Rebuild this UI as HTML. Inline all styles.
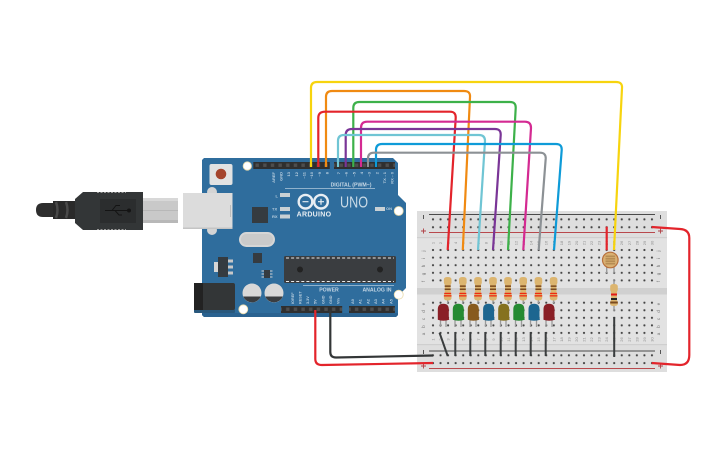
<!DOCTYPE html>
<html><head><meta charset="utf-8">
<style>html,body{margin:0;padding:0;background:#fff;width:725px;height:453px;overflow:hidden}svg{display:block}
text{font-family:"Liberation Sans",sans-serif}</style></head>
<body>
<svg width="725" height="453" viewBox="0 0 725 453" xmlns="http://www.w3.org/2000/svg">
<defs>
<pattern id="hr" x="433" y="215.4" width="7.55" height="7.9" patternUnits="userSpaceOnUse"><circle cx="0" cy="3.9" r="1.1" fill="#444"/><circle cx="7.55" cy="3.9" r="1.1" fill="#444"/></pattern>
<pattern id="hr2" x="433" y="351.4" width="7.55" height="7.8" patternUnits="userSpaceOnUse"><circle cx="0" cy="3.9" r="1.1" fill="#444"/><circle cx="7.55" cy="3.9" r="1.1" fill="#444"/></pattern>
<pattern id="hm" x="433" y="246.2" width="7.55" height="7.6" patternUnits="userSpaceOnUse"><circle cx="0" cy="3.8" r="1.1" fill="#444"/><circle cx="7.55" cy="3.8" r="1.1" fill="#444"/></pattern>
<pattern id="hm2" x="433" y="298.9" width="7.55" height="7.55" patternUnits="userSpaceOnUse"><circle cx="0" cy="3.8" r="1.1" fill="#444"/><circle cx="7.55" cy="3.8" r="1.1" fill="#444"/></pattern>
<pattern id="pin" x="253.3" y="161" width="7.65" height="9" patternUnits="userSpaceOnUse"><rect width="7.65" height="9" fill="#2f2f2f"/><rect x="2.2" y="2.5" width="3.4" height="3.4" fill="#4e4e4e"/></pattern>
<g id="res"><rect x="-.7" y="-2" width="1.4" height="25" fill="#9a9a9a"/><path d="M-3.8 -.5Q-3.8-3 0-3T3.8-.5V3L2.9 5V13L3.8 15V18Q3.8 20.500 0 20.500T-3.800 18V15L-2.900 13V5L-3.800 3Z" fill="#dcb56f"/><rect x="-3" y="5.400" width="6" height="1.500" fill="#7a4a1f"/><rect x="-3" y="8.500" width="6" height="1.500" fill="#7a4a1f"/><rect x="-3.500" y="12.800" width="7" height="1.300" fill="#ee2a10"/><rect x="-3.800" y="15.200" width="7.600" height="1.300" fill="#ee2a10"/></g>
<g id="res2"><rect x="-.7" y="-6" width="1.4" height="32" fill="#9a9a9a"/><path d="M-3.800 1.500Q-3.800-1 0-1T3.800 1.500V5L2.900 7V15L3.800 17V19Q3.800 21 0 21T-3.800 19V17L-2.900 15V7L-3.800 5Z" fill="#dcb56f"/><rect x="-3" y="8.500" width="6" height="2" fill="#e01818"/><rect x="-3" y="13" width="6" height="2" fill="#222"/><rect x="-3.800" y="16.500" width="7.600" height="2" fill="#7a4a1f"/></g>
<path id="led" d="M-5.500 15V5.500Q-5.500 0 0 0T5.500 5.500V14.500L6 16Q0 18-5.500 16Z"/>
</defs>

<!-- Breadboard -->
<rect x="417" y="211" width="250" height="161" fill="#dedede"/>
<rect x="417" y="238" width="250" height="106" fill="#e2e2e2"/>
<rect x="417" y="237" width="250" height="1.2" fill="#cfcfcf"/>
<rect x="417" y="344" width="250" height="1.2" fill="#cfcfcf"/>
<rect x="417" y="288" width="250" height="6.500" fill="#d0d0d0"/>
<rect x="429" y="214" width="226" height="1" fill="#4a4a4a"/>
<rect x="429" y="232" width="226" height="1" fill="#b8484c"/>
<rect x="429" y="350.5" width="226" height="1" fill="#4a4a4a"/>
<rect x="429" y="368" width="226" height="1" fill="#b8484c"/>
<rect x="431" y="215.4" width="223" height="15.8" fill="url(#hr)"/>
<rect x="431" y="351.4" width="223" height="15.6" fill="url(#hr2)"/>
<rect x="431" y="246.2" width="223" height="38" fill="url(#hm)"/>
<rect x="431" y="298.9" width="223" height="37.7" fill="url(#hm2)"/>
<g fill="#555">
<rect x="423" y="215" width="1" height="4"/><rect x="423" y="350" width="1" height="4"/><rect x="660" y="215" width="1" height="4"/><rect x="660" y="350" width="1" height="4"/>
</g>
<g fill="#b04045">
<path d="M421 231h5M423.500 228.500v5M658 231h5M660.500 228.500v5M421 366h5M423.500 363.500v5M658 366h5M660.500 363.500v5" stroke="#b04045" stroke-width=".9"/>
</g>
<g font-size="4.500" fill="#777" text-anchor="middle">
<text transform="translate(425,251) rotate(-90)">j</text><text transform="translate(425,258.500) rotate(-90)">i</text><text transform="translate(425,266) rotate(-90)">h</text><text transform="translate(425,274) rotate(-90)">g</text><text transform="translate(425,281.500) rotate(-90)">f</text>
<text transform="translate(425,304) rotate(-90)">e</text><text transform="translate(425,311.500) rotate(-90)">d</text><text transform="translate(425,319) rotate(-90)">c</text><text transform="translate(425,326.500) rotate(-90)">b</text><text transform="translate(425,334) rotate(-90)">a</text>
<text transform="translate(660,251) rotate(-90)">j</text><text transform="translate(660,258.500) rotate(-90)">i</text><text transform="translate(660,266) rotate(-90)">h</text><text transform="translate(660,274) rotate(-90)">g</text><text transform="translate(660,281.500) rotate(-90)">f</text>
<text transform="translate(660,304) rotate(-90)">e</text><text transform="translate(660,311.500) rotate(-90)">d</text><text transform="translate(660,319) rotate(-90)">c</text><text transform="translate(660,326.500) rotate(-90)">b</text><text transform="translate(660,334) rotate(-90)">a</text>
</g>
<g font-size="4" fill="#8c8c8c" text-anchor="middle">
<text transform="translate(434.500,243) rotate(-90)">1</text><text transform="translate(442,243) rotate(-90)">2</text><text transform="translate(449.600,243) rotate(-90)">3</text><text transform="translate(457.100,243) rotate(-90)">4</text><text transform="translate(464.700,243) rotate(-90)">5</text><text transform="translate(472.200,243) rotate(-90)">6</text><text transform="translate(479.800,243) rotate(-90)">7</text><text transform="translate(487.300,243) rotate(-90)">8</text><text transform="translate(494.900,243) rotate(-90)">9</text><text transform="translate(502.400,243) rotate(-90)">10</text><text transform="translate(510,243) rotate(-90)">11</text><text transform="translate(517.500,243) rotate(-90)">12</text><text transform="translate(525.100,243) rotate(-90)">13</text><text transform="translate(532.600,243) rotate(-90)">14</text><text transform="translate(540.200,243) rotate(-90)">15</text><text transform="translate(547.700,243) rotate(-90)">16</text><text transform="translate(555.300,243) rotate(-90)">17</text><text transform="translate(562.800,243) rotate(-90)">18</text><text transform="translate(570.400,243) rotate(-90)">19</text><text transform="translate(577.900,243) rotate(-90)">20</text><text transform="translate(585.500,243) rotate(-90)">21</text><text transform="translate(593,243) rotate(-90)">22</text><text transform="translate(600.600,243) rotate(-90)">23</text><text transform="translate(608.100,243) rotate(-90)">24</text><text transform="translate(615.700,243) rotate(-90)">25</text><text transform="translate(623.200,243) rotate(-90)">26</text><text transform="translate(630.800,243) rotate(-90)">27</text><text transform="translate(638.300,243) rotate(-90)">28</text><text transform="translate(645.900,243) rotate(-90)">29</text><text transform="translate(653.400,243) rotate(-90)">30</text>
<text transform="translate(434.500,339.500) rotate(-90)">1</text><text transform="translate(442,339.500) rotate(-90)">2</text><text transform="translate(449.600,339.500) rotate(-90)">3</text><text transform="translate(457.100,339.500) rotate(-90)">4</text><text transform="translate(464.700,339.500) rotate(-90)">5</text><text transform="translate(472.200,339.500) rotate(-90)">6</text><text transform="translate(479.800,339.500) rotate(-90)">7</text><text transform="translate(487.300,339.500) rotate(-90)">8</text><text transform="translate(494.900,339.500) rotate(-90)">9</text><text transform="translate(502.400,339.500) rotate(-90)">10</text><text transform="translate(510,339.500) rotate(-90)">11</text><text transform="translate(517.500,339.500) rotate(-90)">12</text><text transform="translate(525.100,339.500) rotate(-90)">13</text><text transform="translate(532.600,339.500) rotate(-90)">14</text><text transform="translate(540.200,339.500) rotate(-90)">15</text><text transform="translate(547.700,339.500) rotate(-90)">16</text><text transform="translate(555.300,339.500) rotate(-90)">17</text><text transform="translate(562.800,339.500) rotate(-90)">18</text><text transform="translate(570.400,339.500) rotate(-90)">19</text><text transform="translate(577.900,339.500) rotate(-90)">20</text><text transform="translate(585.500,339.500) rotate(-90)">21</text><text transform="translate(593,339.500) rotate(-90)">22</text><text transform="translate(600.600,339.500) rotate(-90)">23</text><text transform="translate(608.100,339.500) rotate(-90)">24</text><text transform="translate(615.700,339.500) rotate(-90)">25</text><text transform="translate(623.200,339.500) rotate(-90)">26</text><text transform="translate(630.800,339.500) rotate(-90)">27</text><text transform="translate(638.300,339.500) rotate(-90)">28</text><text transform="translate(645.900,339.500) rotate(-90)">29</text><text transform="translate(653.400,339.500) rotate(-90)">30</text>
</g>

<!-- USB cable -->
<path d="M53 203H43Q36 203 36 210T43 217H53Z" fill="#2e2e2e"/>
<path d="M53 201H75V219H53Z" fill="#2a2a2a"/>
<path d="M56 202Q59 210 56 218M66 202Q69 210 66 218" stroke="#4a4a4a" stroke-width="2.500" fill="none"/>
<path d="M75 199L83 192H143V230H83L75 223Z" fill="#333637"/>
<path d="M97 192.500H126M97 229.500H126" stroke="#9a9a9a" stroke-width="1" stroke-dasharray="2 1.500"/>
<rect x="100" y="199" width="36" height="24" fill="#2b2d2e"/>
<path d="M105 210.500H128M112 210.500L116 205.500H120M115 210.500L119 215H122" stroke="#141414" stroke-width="1" fill="none"/><circle cx="129" cy="210.500" r="2" fill="#141414"/>
<rect x="143" y="198" width="35" height="25" fill="#c9c9c9"/>
<rect x="143" y="198" width="35" height="3" fill="#d8d8d8"/><rect x="143" y="220" width="35" height="3" fill="#b8b8b8"/>
<rect x="143" y="210" width="35" height=".8" fill="#b4b4b4"/>

<!-- Arduino -->
<path d="M204 158H393L398 163V195L406 203V288L398 296V315L396 317H204L202 315V160Z" fill="#2f6d9d"/>
<path d="M202 315V313H398V315L396 317H204Z" fill="#2a6290"/>
<ellipse cx="212" cy="192" rx="5" ry="5" fill="#d4d4d4"/><ellipse cx="212" cy="230" rx="5" ry="5" fill="#d4d4d4"/>
<rect x="183" y="193" width="49.500" height="36" fill="#dcdcdc"/>
<rect x="183" y="227.500" width="49.500" height="1.500" fill="#c4c4c4"/>
<rect x="230" y="205" width=".8" height="12" fill="#b4b4b4"/>
<rect x="209.500" y="164" width="23" height="21" rx="2" fill="#e2e2e2"/>
<circle cx="221" cy="174" r="5.300" fill="#a5442c"/>
<circle cx="247.300" cy="166" r="4.200" fill="#fff" stroke="#e8d9a8" stroke-width=".8"/>
<circle cx="398.700" cy="211" r="4.500" fill="#fff" stroke="#e8d9a8" stroke-width=".8"/>
<circle cx="398.700" cy="294.700" r="4.500" fill="#fff" stroke="#e8d9a8" stroke-width=".8"/>
<circle cx="243.300" cy="309.300" r="4.500" fill="#fff" stroke="#e8d9a8" stroke-width=".8"/>
<rect x="253.300" y="162" width="76.500" height="7" fill="url(#pin)"/>
<rect x="334" y="162" width="61" height="7" fill="url(#pin)"/>
<rect x="281" y="306" width="61.200" height="7" fill="url(#pin)"/>
<rect x="349" y="306" width="45.900" height="7" fill="url(#pin)"/>
<rect x="285" y="188" width="90" height=".8" fill="#a9c3d8"/>
<text x="351" y="186.300" font-size="5.200" font-weight="bold" fill="#c4d6e4" text-anchor="middle">DIGITAL (PWM~)</text>
<g font-size="4" fill="#b9cede" text-anchor="end" font-weight="bold">
<text transform="translate(275,172) rotate(-90)">AREF</text><text transform="translate(282.600,172) rotate(-90)">GND</text><text transform="translate(290,172) rotate(-90)">13</text><text transform="translate(297.800,172) rotate(-90)">12</text><text transform="translate(305.500,172) rotate(-90)">~11</text><text transform="translate(313,172) rotate(-90)">~10</text><text transform="translate(320.800,172) rotate(-90)">~9</text><text transform="translate(328.500,172) rotate(-90)">8</text>
<text transform="translate(340,172) rotate(-90)">7</text><text transform="translate(347.700,172) rotate(-90)">~6</text><text transform="translate(355.300,172) rotate(-90)">~5</text><text transform="translate(363,172) rotate(-90)">4</text><text transform="translate(370.600,172) rotate(-90)">~3</text><text transform="translate(378.300,172) rotate(-90)">2</text><text transform="translate(385.900,172) rotate(-90)">TX→1</text><text transform="translate(393.600,172) rotate(-90)">RX←0</text>
</g>
<!-- logo -->
<g fill="none" stroke="#e8eef3" stroke-width="2.400"><circle cx="305.500" cy="201.700" r="6.800"/><circle cx="321" cy="201.700" r="6.800"/></g>
<path d="M302.500 201.700h6M318 201.700h6M321 198.700v6" stroke="#e8eef3" stroke-width="1.200"/>
<text x="314" y="216.500" font-size="7" font-weight="bold" fill="#e8eef3" text-anchor="middle" letter-spacing=".3">ARDUINO</text>
<text x="354" y="207.500" font-size="16" fill="#c9dae6" text-anchor="middle" textLength="28" lengthAdjust="spacingAndGlyphs">UNO</text>
<g fill="#b9cede" font-size="4" font-weight="bold"><text x="275.500" y="197.500">L</text><text x="272" y="210.500">TX</text><text x="272" y="218">RX</text><text x="386" y="210">ON</text></g>
<g fill="#c8d0d4"><rect x="280" y="193" width="10" height="4"/><rect x="280" y="207" width="10" height="4"/><rect x="280" y="214.500" width="10" height="4"/><rect x="375" y="207" width="10" height="4"/></g>
<rect x="252" y="207" width="16" height="16" fill="#353b40"/>
<rect x="239" y="232" width="36" height="15" rx="7.500" fill="#d6d6d6"/>
<rect x="241" y="234" width="32" height="11" rx="5.500" fill="#cacaca"/>
<rect x="253" y="253" width="9" height="10" fill="#353b40"/>
<rect x="214" y="262" width="4" height="10" fill="#d6d6d6"/>
<rect x="218" y="257" width="10" height="20" fill="#353b40"/>
<rect x="228" y="259.500" width="5" height="3" fill="#c8c8c8"/><rect x="228" y="265.500" width="5" height="3" fill="#c8c8c8"/><rect x="228" y="271.500" width="5" height="3" fill="#c8c8c8"/>
<path d="M261.500 271h11M261.500 274h11M261.500 277h11" stroke="#d0d0d0" stroke-width="1"/>
<rect x="264" y="270" width="6" height="8" fill="#353b40"/>
<rect x="284" y="256" width="112" height="27" rx="1.500" fill="#3a3d40"/>
<path d="M286 258H394M286 281.500H394" stroke="#e8e8e8" stroke-width="1" stroke-dasharray="3 2.100"/>
<circle cx="300" cy="269.500" r="3" fill="#222"/><circle cx="380" cy="269.500" r="3" fill="#222"/>
<rect x="194" y="309" width="41" height="4" rx="1" fill="#29587c"/>
<rect x="194" y="283" width="41" height="27" rx="2" fill="#333637"/><rect x="194" y="283" width="9" height="27" fill="#222"/>
<circle cx="252" cy="293" r="9.500" fill="#d8d8d8"/><path d="M243.200 296.500A9.500 9.500 0 0 0 260.800 296.500Z" fill="#3a3d40"/><circle cx="274" cy="293" r="9.500" fill="#d8d8d8"/><path d="M265.200 296.500A9.500 9.500 0 0 0 282.800 296.500Z" fill="#3a3d40"/>
<rect x="303" y="285" width="47" height=".8" fill="#a9c3d8"/><rect x="349" y="285" width="45" height=".8" fill="#a9c3d8"/>
<text x="329" y="291.500" font-size="5.200" font-weight="bold" fill="#c4d6e4" text-anchor="middle">POWER</text>
<text x="377" y="291.500" font-size="5.200" font-weight="bold" fill="#c4d6e4" text-anchor="middle">ANALOG IN</text>
<g font-size="3.800" fill="#b9cede" font-weight="bold">
<text transform="translate(294,304) rotate(-90)">IOREF</text><text transform="translate(301.500,304) rotate(-90)">RESET</text><text transform="translate(309,304) rotate(-90)">3.3V</text><text transform="translate(316.700,304) rotate(-90)">5V</text><text transform="translate(324.300,304) rotate(-90)">GND</text><text transform="translate(332,304) rotate(-90)">GND</text><text transform="translate(339.600,304) rotate(-90)">Vin</text>
<text transform="translate(354,304) rotate(-90)">A0</text><text transform="translate(361.600,304) rotate(-90)">A1</text><text transform="translate(369.300,304) rotate(-90)">A2</text><text transform="translate(377,304) rotate(-90)">A3</text><text transform="translate(384.600,304) rotate(-90)">A4</text><text transform="translate(392.300,304) rotate(-90)">A5</text>
</g>

<!-- Resistors -->
<use href="#res" x="447.700" y="280"/><use href="#res" x="462.800" y="280"/><use href="#res" x="478" y="280"/><use href="#res" x="493" y="280"/><use href="#res" x="508" y="280"/><use href="#res" x="523.200" y="280"/><use href="#res" x="538.400" y="280"/><use href="#res" x="553.600" y="280"/>
<!-- LEDs -->
<path d="M440.500 319V327M446 319V327M455 319V327M461 319V327M470 319V327M476 319V327M485.500 319V327M491 319V327M500.500 319V327M506 319V327M515.500 319V327M521.500 319V327M530.500 319V327M536.500 319V327M546 319V327M552 319V327" stroke="#9a9a9a" stroke-width="1.300"/>
<use href="#led" x="443.300" y="303.700" fill="#8a1f26"/><use href="#led" x="458.300" y="303.700" fill="#258a32"/><use href="#led" x="473.300" y="303.700" fill="#875a1e"/><use href="#led" x="488.600" y="303.700" fill="#1d6690"/><use href="#led" x="503.700" y="303.700" fill="#85711f"/><use href="#led" x="518.800" y="303.700" fill="#258a32"/><use href="#led" x="534" y="303.700" fill="#1d6690"/><use href="#led" x="549" y="303.700" fill="#8a1f26"/>
<!-- LED ground jumpers -->
<g stroke="#3a3d3e" stroke-width="2" fill="none">
<path d="M439.500 332.700L447.700 356M455.300 332V356M470.300 332V356M485.300 332V356M500.700 332V356M515.700 332V356M530.700 332V356M545.700 332V356"/>
<path d="M614.200 317V357"/>
</g>
<!-- Photoresistor + resistor -->
<path d="M606.700 262V273M614 262V273" stroke="#9a9a9a" stroke-width="1.400"/>
<use href="#res2" x="614" y="285"/>
<rect x="605.600" y="226.700" width="2.200" height="23.500" fill="#e3242b"/>
<circle cx="610.300" cy="260" r="7.800" fill="#d9b072" stroke="#b8703c" stroke-width="1.200"/>
<rect x="605.500" y="255.500" width="9.600" height="9" fill="#a9804a" opacity=".75"/>
<path d="M605.500 257.500h9.600M605.500 260h9.600M605.500 262.500h9.600" stroke="#d9b072" stroke-width=".8"/>

<!-- Wires -->
<g fill="none" stroke-width="2.200" stroke-linejoin="round">
<path d="M311 167V88Q311 82 317 82H616Q622.500 82 622 88L614 250" stroke="#f7d40e"/>
<path d="M326 167V97Q326 91 332 91H464Q470.500 91 470 97L462.800 250" stroke="#f08a12"/>
<path d="M353.300 167V108Q353.300 102 359.300 102H510Q516 102 515.700 108L508 250" stroke="#3db14a"/>
<path d="M318.300 167V118Q318.300 111.700 325 111.700H450Q456 111.700 455.700 118L447.700 250" stroke="#e3242b"/>
<path d="M361 167V128Q361 121.700 367 121.700H525Q531 121.700 531 128L523.300 250" stroke="#d42a92"/>
<path d="M345.700 167V135Q345.700 129 352 129H495Q501 129 500.700 135L493 250" stroke="#7a3597"/>
<path d="M338 167V141Q338 135 344 135H479Q485 135 485 141L478 250" stroke="#70c5d4"/>
<path d="M376 167V150Q376 144 382 144H556Q562 144 561.700 150L554 250" stroke="#0e9bd8"/>
<path d="M368 167V158.500Q368 152.700 374 152.700H540Q546 152.700 545.700 158.700L538.700 250" stroke="#8c9195"/>
<path d="M330.300 310V352Q330.300 357.500 336 357.500L433 355.500" stroke="#333637"/>
<path d="M315.300 310V359Q315.300 365 322 365L433 363" stroke="#e3242b"/>
<path d="M651.700 227L680 229Q689.300 229.500 689.300 238V355Q689.300 365 680 365L651.700 363" stroke="#e3242b"/>
</g>
</svg>
</body></html>
